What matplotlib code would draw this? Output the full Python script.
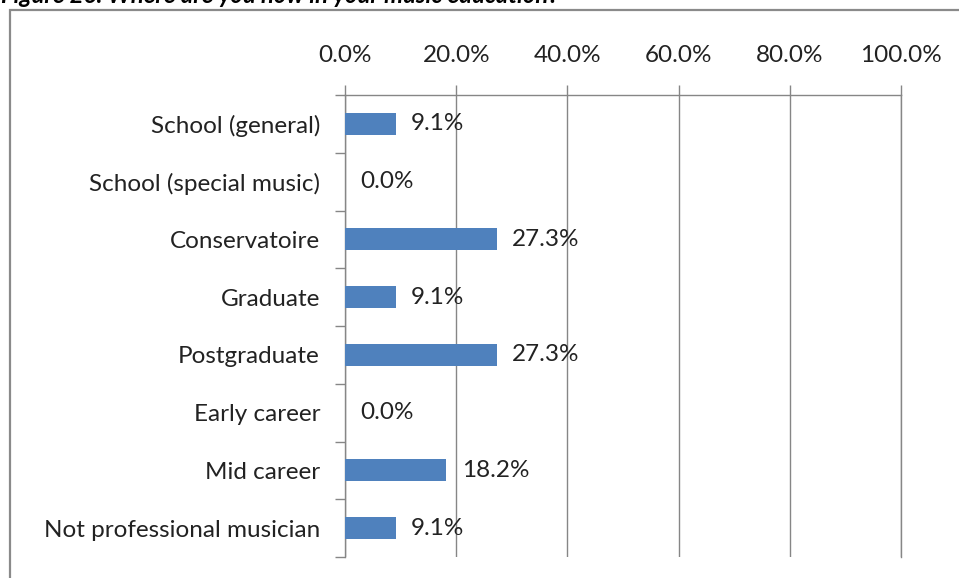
import matplotlib
matplotlib.use("Agg")
import matplotlib.pyplot as plt
from matplotlib.patches import Rectangle

categories = ["School (general)", "School (special music)", "Conservatoire",
              "Graduate", "Postgraduate", "Early career", "Mid career",
              "Not professional musician"]
values = [9.1, 0.0, 27.3, 9.1, 27.3, 0.0, 18.2, 9.1]
xticks = [0, 20, 40, 60, 80, 100]
title = "Figure 26: Where are you now in your music education?"

plt.rcParams['font.family'] = ['Lato', 'DejaVu Sans']

W, H = 959, 578
fig = plt.figure(figsize=(W / 100, H / 100), dpi=100)

# frame around the chart (right and bottom edges fall outside the picture)
fig.patches.append(Rectangle((9.5 / W, -0.05), 1.0, 1 - 9.5 / H + 0.05,
                             transform=fig.transFigure, fill=False,
                             edgecolor="#8a8a8a", linewidth=1.6))

# title, cut off at the top edge
fig.text(1 / W, 1 - 3.0 / H, title, fontsize=17.2, fontweight="bold",
         fontstyle="italic", va="baseline", ha="left", color="black")

ax = fig.add_axes([345 / W, 21 / H, 556 / W, 462 / H])

pos = list(range(len(categories)))
ax.barh(pos, values, height=0.38, color="#4F81BD", zorder=3)
for p, v in zip(pos, values):
    ax.text(v + 2.8, p, "%.1f%%" % v, va="center", ha="left",
            fontsize=17.5, color="#222222", zorder=4)

ax.set_xlim(0, 100)
ax.set_ylim(len(categories) - 0.5, -0.5)
ax.set_xticks(xticks)
ax.set_xticklabels(["%.1f%%" % t for t in xticks])
ax.xaxis.tick_top()
ax.set_yticks(pos)
ax.set_yticklabels(categories)
ax.set_yticks([i - 0.5 for i in range(len(categories) + 1)], minor=True)

ax.grid(axis="x", color="#868686", linewidth=1.0, zorder=0)
ax.tick_params(axis="x", which="major", length=7, width=1.0, color="#868686",
               labelsize=17.5, pad=14, labelcolor="#222222")
ax.tick_params(axis="y", which="major", length=0, labelsize=17.5, pad=18,
               labelcolor="#222222")
ax.tick_params(axis="y", which="minor", length=7, width=1.0, color="#868686")

ax.spines["bottom"].set_visible(False)
for s in ["top", "left", "right"]:
    ax.spines[s].set_color("#868686")
    ax.spines[s].set_linewidth(1.0)

fig.savefig("out.png", dpi=100, facecolor="white")
